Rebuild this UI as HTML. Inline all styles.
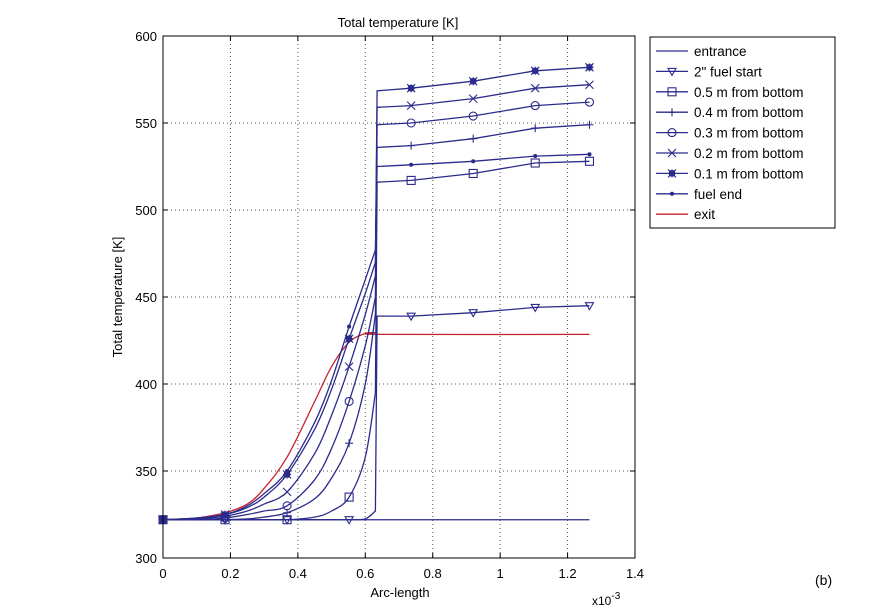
<!DOCTYPE html>
<html><head><meta charset="utf-8"><style>
body{margin:0;background:#fff;}
svg{display:block;font-family:"Liberation Sans","DejaVu Sans",sans-serif;}
</style></head><body>
<svg id="chart" width="896" height="612" viewBox="0 0 896 612">
<g id="grid"></g>
<g id="series"></g>
<rect x="163" y="36" width="472" height="522" fill="none" stroke="#000" stroke-width="1"/>
<g id="ticks"></g>
<text x="398" y="27" text-anchor="middle" font-size="13">Total temperature [K]</text>
<text x="400" y="597" text-anchor="middle" font-size="13">Arc-length</text>
<text x="592" y="605" font-size="12">x10<tspan dy="-6" font-size="10">-3</tspan></text>
<text transform="translate(122,297) rotate(-90)" text-anchor="middle" font-size="13">Total temperature [K]</text>
<text x="815" y="585" font-size="14">(b)</text>
<g id="legend"></g>
</svg>
<script>
const xTicks=[0,0.2,0.4,0.6,0.8,1,1.2,1.4];
const xTickLabels=["0","0.2","0.4","0.6","0.8","1","1.2","1.4"];
const yTicks=[300,350,400,450,500,550,600];
const lowX=[0,0.1,0.184,0.25,0.3,0.368,0.45,0.5,0.552,0.6,0.63];
const upX=[0.635,0.736,0.92,1.104,1.265];
const markX=[0,0.184,0.368,0.552,0.736,0.92,1.104,1.265];
const seriesNames=["entrance","2\" fuel start","0.5 m from bottom","0.4 m from bottom","0.3 m from bottom","0.2 m from bottom","0.1 m from bottom","fuel end","exit"];
const entranceX=[0,1.265];
const entranceY=[322,322];
const fuelStartLow=[322,322,322,322,322,322,322,322,322,322.5,327];
const fuelStartUp=[439,439,441,444,445];
const m05Low=[322,322,322,322,322,322,323.5,327,335,358,395];
const m05Up=[516,517,521,527,528];
const m04Low=[322,322,322,322.5,323.5,326,334,346,366,400,440];
const m04Up=[536,537,541,547,549];
const m03Low=[322,322,323,325,327,330,345,363,390,422,450];
const m03Up=[549,550,554,560,562];
const m02Low=[322,322.5,324,327,331,338,360,382,410,440,462];
const m02Up=[559,560,564,570,572];
const m01Low=[322,323,325,329,335,348,374,397,426,452,470];
const m01Up=[568.5,570,574,580,582];
const fuelEndLow=[322,323,325,330,337,350,378,402,433,460,477];
const fuelEndUp=[525,526,528,531,532];
const exitX=[0,0.1,0.184,0.25,0.3,0.368,0.45,0.5,0.552,0.6,0.63,0.65,1.265];
const exitY=[322,323,326,331,340,358,390,410,424,429,429.5,428.5,428.5];

const NS="http://www.w3.org/2000/svg";
const X0=163,X1=635,Y0=558,Y1=36;
function sx(v){return X0+(v-0)/(1.4)*(X1-X0);}
function sy(v){return Y0-(v-300)/300*(Y0-Y1);}
function mk(tag,attrs,parent){const e=document.createElementNS(NS,tag);for(const k in attrs)e.setAttribute(k,attrs[k]);parent.appendChild(e);return e;}
const grid=document.getElementById('grid'),ticks=document.getElementById('ticks'),ser=document.getElementById('series'),leg=document.getElementById('legend');
xTicks.forEach((t,i)=>{const x=sx(t);
 if(i>0&&i<xTicks.length-1){const g=mk('line',{x1:x,x2:x,y1:Y1,y2:Y0,stroke:'#555','stroke-dasharray':'1,3','stroke-width':1},grid);
 
 }
 const a=mk('line',{x1:x,x2:x,y1:Y0,y2:Y0-5,stroke:'#000'},ticks);
 
 
 const b=mk('line',{x1:x,x2:x,y1:Y1,y2:Y1+5,stroke:'#000'},ticks);
 
 
 const l=mk('text',{x:x,y:Y0+20,'text-anchor':'middle','font-size':13},ticks);l.textContent=xTickLabels[i];
 
 });
yTicks.forEach((t,i)=>{const y=sy(t);
 if(i>0&&i<yTicks.length-1){const g=mk('line',{x1:X0,x2:X1,y1:y,y2:y,stroke:'#555','stroke-dasharray':'1,3','stroke-width':1},grid);
 
 }
 const a=mk('line',{x1:X0,x2:X0+5,y1:y,y2:y,stroke:'#000'},ticks);
 
 
 const b=mk('line',{x1:X1,x2:X1-5,y1:y,y2:y,stroke:'#000'},ticks);
 
 
 const l=mk('text',{x:X0-6,y:y+5,'text-anchor':'end','font-size':13},ticks);l.textContent=String(t);
 
 });
const BLUE='#2b2b8c',RED='#c8202a';
function marker(type,x,y,parent){
 const g=mk('g',{stroke:BLUE,fill:'none','stroke-width':1.1},parent);
 
 
 const s=4;
 if(type==='tri')mk('path',{d:`M${x-s},${y-s+1}L${x+s},${y-s+1}L${x},${y+s}Z`},g);
 else if(type==='sq')mk('rect',{x:x-s,y:y-s,width:2*s,height:2*s},g);
 else if(type==='plus')mk('path',{d:`M${x-s},${y}H${x+s}M${x},${y-s}V${y+s}`},g);
 else if(type==='circ')mk('circle',{cx:x,cy:y,r:s},g);
 else if(type==='x')mk('path',{d:`M${x-s},${y-s}L${x+s},${y+s}M${x-s},${y+s}L${x+s},${y-s}`},g);
 else if(type==='star'){mk('path',{d:`M${x-s},${y}H${x+s}M${x},${y-s}V${y+s}M${x-s},${y-s}L${x+s},${y+s}M${x-s},${y+s}L${x+s},${y-s}`},g);mk('rect',{x:x-2.5,y:y-2.5,width:5,height:5,fill:BLUE},g);}
 else if(type==='dot')mk('circle',{cx:x,cy:y,r:1.5,fill:BLUE},g);
}
// Catmull-Rom smoothing in pixel space
function smooth(pts){
 let d='M'+pts[0][0].toFixed(1)+','+pts[0][1].toFixed(1);
 for(let i=0;i<pts.length-1;i++){
  const p0=pts[Math.max(i-1,0)],p1=pts[i],p2=pts[i+1],p3=pts[Math.min(i+2,pts.length-1)];
  const c1x=p1[0]+(p2[0]-p0[0])/6,c1y=p1[1]+(p2[1]-p0[1])/6;
  const c2x=p2[0]-(p3[0]-p1[0])/6,c2y=p2[1]-(p3[1]-p1[1])/6;
  d+=`C${c1x.toFixed(1)},${c1y.toFixed(1)} ${c2x.toFixed(1)},${c2y.toFixed(1)} ${p2[0].toFixed(1)},${p2[1].toFixed(1)}`;
 }
 return d;
}
function interp(xs,ys,v){for(let i=0;i<xs.length-1;i++){if(v>=xs[i]&&v<=xs[i+1]){return ys[i]+(ys[i+1]-ys[i])*(v-xs[i])/(xs[i+1]-xs[i]);}}return ys[ys.length-1];}
function drawPath(name,d,color){
 const p=mk('path',{d:d,fill:'none',stroke:color,'stroke-width':1.3},ser);
 
 
}
const defs=[
 ['fuel-start',fuelStartLow,fuelStartUp,'tri'],
 ['0-5m',m05Low,m05Up,'sq'],
 ['0-4m',m04Low,m04Up,'plus'],
 ['0-3m',m03Low,m03Up,'circ'],
 ['0-2m',m02Low,m02Up,'x'],
 ['0-1m',m01Low,m01Up,'star'],
 ['fuel-end',fuelEndLow,fuelEndUp,'dot']];
drawPath('entrance','M'+sx(entranceX[0])+','+sy(entranceY[0])+'L'+sx(entranceX[1])+','+sy(entranceY[1]),BLUE);
drawPath('exit',smooth(exitX.map((v,i)=>[sx(v),sy(exitY[i])])),RED);
defs.forEach(d=>{
 const lowPts=lowX.map((v,i)=>[sx(v),sy(d[1][i])]);
 let path=smooth(lowPts);
 upX.forEach((v,i)=>{path+='L'+sx(v).toFixed(1)+','+sy(d[2][i]).toFixed(1);});
 drawPath(d[0],path,BLUE);
 const xs=lowX.concat(upX),ys=d[1].concat(d[2]);
 markX.forEach(m=>marker(d[3],sx(m),sy(interp(xs,ys,m)),ser));
});
// legend
const lb=mk('rect',{x:650,y:37,width:185,height:191,fill:'#fff',stroke:'#000'},leg);


const legM=[null,'tri','sq','plus','circ','x','star','dot',null];
seriesNames.forEach((n,i)=>{const y=51+i*20.4;
 const c=i===8?RED:BLUE;
 const l=mk('line',{x1:656,x2:688,y1:y,y2:y,stroke:c,'stroke-width':1.3},leg);
 
 
 if(legM[i])marker(legM[i],672,y,leg);
 const t=mk('text',{x:694,y:y+5,'font-size':13.5},leg);t.textContent=n;
 
 });
</script>
</body></html>
